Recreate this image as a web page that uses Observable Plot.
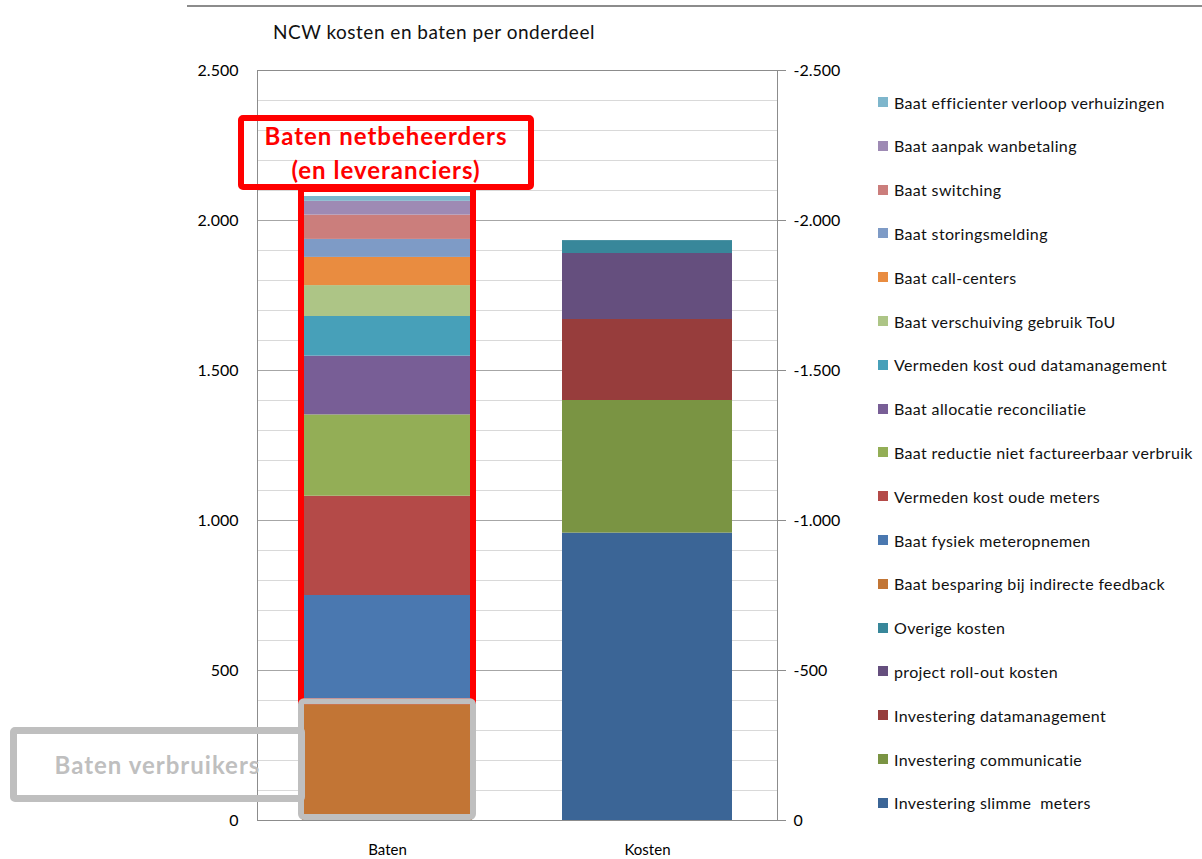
<!DOCTYPE html>
<html>
<head>
<meta charset="utf-8">
<script src="https://cdn.jsdelivr.net/npm/d3@7"></script>
<script src="https://cdn.jsdelivr.net/npm/@observablehq/plot@0.6"></script>
<style>
  body { margin: 0; background: #fff; font-family: Lato, "Open Sans", sans-serif; }
  #wrap { position: relative; width: 1202px; height: 859px; overflow: hidden; background: #fff; }
  #chart { position: absolute; left: 0; top: 0; }
  #topline { position: absolute; left: 187px; top: 5px; width: 1015px; height: 2px; background: #8c8c8c; }
  #title { position: absolute; left: 273px; top: 20px; font-size: 19px; letter-spacing: 0.5px; color: #111; white-space: nowrap; }
  #legend { position: absolute; left: 878px; top: 80px; }
  .item { position: absolute; left: 0; height: 20px; display: flex; align-items: center; white-space: pre; font-size: 16px; letter-spacing: 0.35px; color: #111; }
  .sw { width: 10px; height: 10px; margin-right: 6px; flex: none; }
  .box { position: absolute; box-sizing: border-box; border-radius: 5px; display: flex; align-items: center; justify-content: center; text-align: center; font-weight: bold; white-space: nowrap; letter-spacing: 1px; }
  #redbox { left: 238px; top: 115px; width: 296px; height: 75px; border: 6px solid #ff0000; color: #ff0000; font-size: 24px; line-height: 34px; }
  #graybox { left: 10px; top: 727px; width: 295px; height: 75px; border: 7px solid #bfbfbf; color: #bfbfbf; font-size: 24px; }
</style>
</head>
<body>
<div id="wrap">
  <div id="topline"></div>
  <div id="title">NCW kosten en baten per onderdeel</div>
  <div id="chart"></div>
  <div id="legend"></div>
  <div class="box" id="redbox">Baten netbeheerders<br>(en leveranciers)</div>
  <div class="box" id="graybox">Baten verbruikers</div>
</div>
<script>
// ---- data ----
const categories = ["Baten", "Kosten"];
const series = [
  "Investering slimme  meters",
  "Investering communicatie",
  "Investering datamanagement",
  "project roll-out kosten",
  "Overige kosten",
  "Baat besparing bij indirecte feedback",
  "Baat fysiek meteropnemen",
  "Vermeden kost oude meters",
  "Baat reductie niet factureerbaar verbruik",
  "Baat allocatie reconciliatie",
  "Vermeden kost oud datamanagement",
  "Baat verschuiving gebruik ToU",
  "Baat call-centers",
  "Baat storingsmelding",
  "Baat switching",
  "Baat aanpak wanbetaling",
  "Baat efficienter verloop verhuizingen"
];
const seriesCategory = [
  "Kosten", "Kosten", "Kosten", "Kosten", "Kosten",
  "Baten", "Baten", "Baten", "Baten", "Baten", "Baten",
  "Baten", "Baten", "Baten", "Baten", "Baten", "Baten"
];
const values = [
  958, 442, 270, 220, 43,
  396, 354, 331, 271, 196, 132, 103, 94, 60, 81, 46, 16
];
const colors = [
  "#3b6596", "#7a9443", "#973d3c", "#654f7e", "#38879a",
  "#c27535", "#4a78b0", "#b44a48", "#93ae56", "#785e96", "#47a0b9",
  "#adc586", "#e98c40", "#7e9bc6", "#cb7e7c", "#9e8ab4", "#7eb6cc"
];
const yTicks = [0, 500, 1000, 1500, 2000, 2500];
const minorTicks = d3.range(0, 2501, 100);

// ---- build table ----
const table = series.map((s, i) => ({ series: s, category: seriesCategory[i], value: values[i] }));
const consumerBenefit = table.find(d => d.category === "Baten").value;
const batenTotal = d3.sum(table.filter(d => d.category === "Baten"), d => d.value);

const locale = d3.formatLocale({ decimal: ",", thousands: ".", grouping: [3], currency: ["", ""] });
const fmt = locale.format(",");

const plot = Plot.plot({
  width: 850,
  height: 859,
  marginLeft: 257,
  marginRight: 73,
  marginTop: 70,
  marginBottom: 39,
  style: { fontFamily: "Lato, 'Open Sans', sans-serif", color: "#000", background: "transparent" },
  x: { domain: categories, paddingInner: 0.346, paddingOuter: 0.173, label: null },
  y: { domain: [0, 2500], label: null },
  color: { domain: series, range: colors },
  marks: [
    Plot.ruleY(minorTicks.filter(d => d % 500 !== 0), { stroke: "#d9d9d9", strokeWidth: 1 }),
    Plot.ruleY(yTicks, { stroke: "#a6a6a6", strokeWidth: 1 }),
    Plot.frame({ stroke: "#8c8c8c", strokeWidth: 1 }),
    Plot.barY(table, { x: "category", y: "value", fill: "series", order: null }),
    Plot.barY([{ category: "Baten", y1: consumerBenefit, y2: batenTotal }],
      { x: "category", y1: "y1", y2: "y2", fill: "none", stroke: "#ff0000", strokeWidth: 6, insetTop: -7, insetLeft: -1, insetRight: -1 }),
    Plot.barY([{ category: "Baten", y1: 0, y2: consumerBenefit }],
      { x: "category", y1: "y1", y2: "y2", fill: "none", stroke: "#bfbfbf", strokeWidth: 6, rx: 3, insetBottom: 3, insetLeft: -1, insetRight: -1 }),
    Plot.axisY({ ticks: yTicks, tickSize: 0, tickPadding: 19, tickFormat: fmt, fontSize: 16 }),
    Plot.axisY({ anchor: "right", ticks: yTicks, tickSize: 8, tickPadding: 8, stroke: "#8c8c8c",
      tickFormat: d => d === 0 ? "0" : "-" + fmt(d), fontSize: 16 }),
    Plot.axisX({ tickSize: 0, tickPadding: 24, fontSize: 15 })
  ]
});
document.getElementById("chart").appendChild(plot);

// ---- legend (reverse order like the original) ----
const legend = document.getElementById("legend");
const order = series.map((s, i) => i).reverse();
order.forEach((i, k) => {
  const div = document.createElement("div");
  div.className = "item";
  div.style.top = (12 + k * 43.8) + "px";
  const sw = document.createElement("span");
  sw.className = "sw";
  sw.style.background = colors[i];
  const tx = document.createElement("span");
  tx.textContent = series[i];
  div.appendChild(sw);
  div.appendChild(tx);
  legend.appendChild(div);
});
</script>
</body>
</html>
